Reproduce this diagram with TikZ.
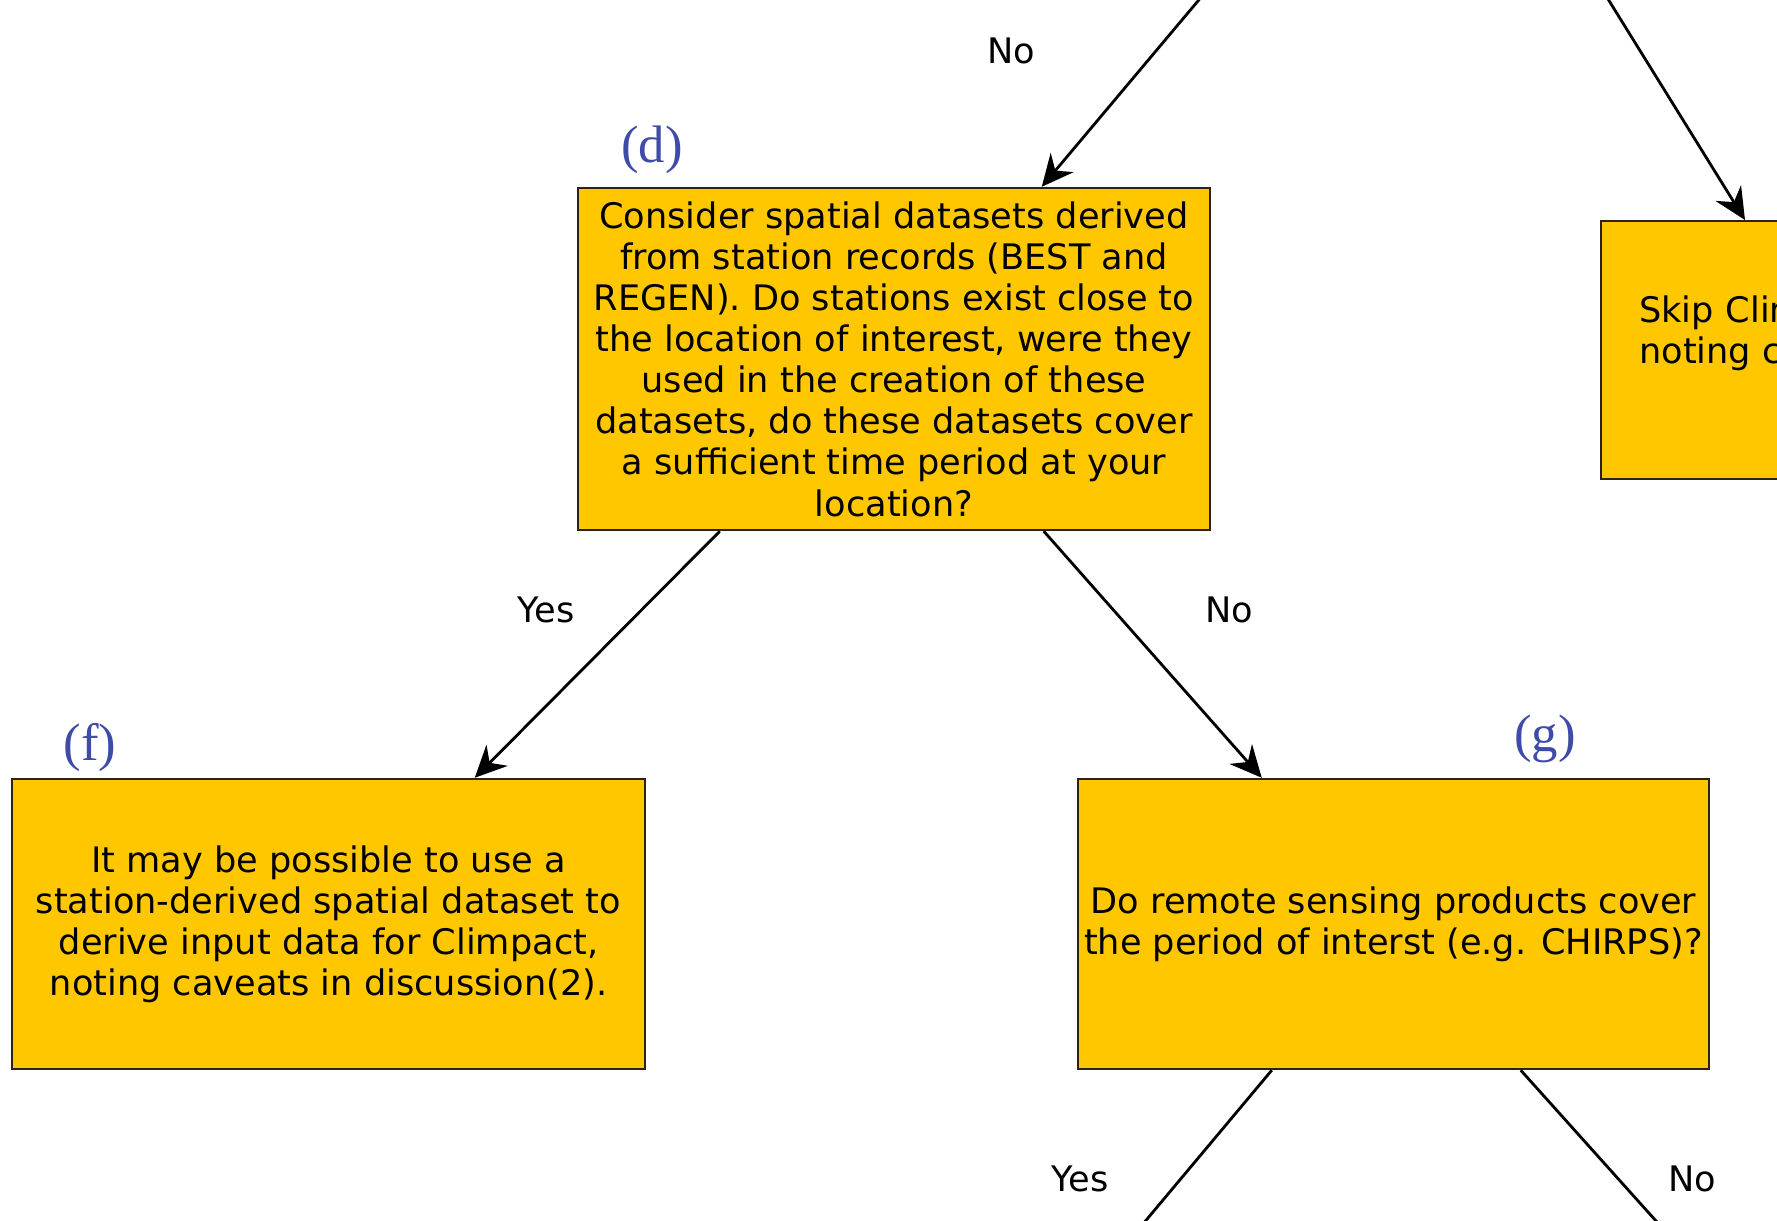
\documentclass[tikz,border=0pt]{standalone}
\usepackage{fontspec}
\setmainfont{DejaVu Sans}
\newfontfamily\tagfont{Liberation Serif}
\usetikzlibrary{arrows.meta,positioning}
\definecolor{boxfill}{RGB}{255,199,0}
\definecolor{boxline}{RGB}{45,35,20}
\definecolor{tagblue}{RGB}{62,76,168}

\begin{document}
\begin{tikzpicture}[
            question/.style={
                draw=boxline, fill=boxfill, line width=0.7pt,
                align=center, inner xsep=1pt, inner ysep=0.5pt,
                font=\fontsize{10}{11.7}\selectfont
            },
            flow/.style={
                line width=0.8pt,
                -{Stealth[length=9pt,width=8.5pt,inset=3pt]}
            },
            answer/.style={
                font=\fontsize{10}{12}\selectfont
            },
            tag/.style={
                text=tagblue, font=\tagfont\fontsize{15}{15}\selectfont
            }
        ]
        \useasboundingbox (0,0) rectangle (17.77,-12.21);
        \clip (0,0) rectangle (17.77,-12.21);

        \node[question, minimum width=6.32cm, minimum height=3.42cm] (d) at (8.94,-3.59)
            {Consider spatial datasets derived\\
             from station records (BEST and\\
             REGEN). Do stations exist close to\\
             the location of interest, were they\\
             used in the creation of these\\
             datasets, do these datasets cover\\
             a sufficient time period at your\\
             location?};
        \node[question, minimum width=6.33cm, minimum height=2.90cm] (f) at (3.285,-9.24)
            {It may be possible to use a\\
             station-derived spatial dataset to\\
             derive input data for Climpact,\\
             noting caveats in discussion(2).};
        \node[question, minimum width=6.31cm, minimum height=2.90cm] (g) at (13.935,-9.24)
            {Do remote sensing products cover\\
             the period of interst (e.g. CHIRPS)?};
        \node[question, anchor=north west, align=left, inner xsep=0.38cm,
              text width=5.56cm, minimum height=2.58cm] (skip) at (16.00,-2.20)
            {Skip Climpact,\\
             noting caveats\\
             \mbox{}};

        \coordinate (upleft) at (12.24,0.30);
        \coordinate (upright) at (15.90,0.30);
        \coordinate (downleft) at (10.96,-12.80);
        \coordinate (downright) at (17.09,-12.80);

        \draw[flow] (upleft) -- ([xshift=4.65cm]d.north west);
        \draw[flow] (upright) -- ([xshift=1.45cm]skip.north west);
        \draw[flow] ([xshift=1.43cm]d.south west) -- ([xshift=4.64cm]f.north west);
        \draw[flow] ([xshift=4.67cm]d.south west) -- ([xshift=1.85cm]g.north west);
        \draw[flow] ([xshift=1.95cm]g.south west) -- (downleft);
        \draw[flow] ([xshift=4.44cm]g.south west) -- (downright);

        \node[answer] (no1) at (10.11,-0.51) {No};
        \node[answer] (yes1) at (5.46,-6.10) {Yes};
        \node[answer] (no2) at (12.29,-6.10) {No};
        \node[answer] (yes2) at (10.80,-11.79) {Yes};
        \node[answer] (no3) at (16.92,-11.79) {No};

        \node[tag] (tagd) at (6.52,-1.50) {(d)};
        \node[tag] (tagf) at (0.90,-7.48) {(f)};
        \node[tag] (tagg) at (15.45,-7.39) {(g)};
        \end{tikzpicture}
\end{document}
